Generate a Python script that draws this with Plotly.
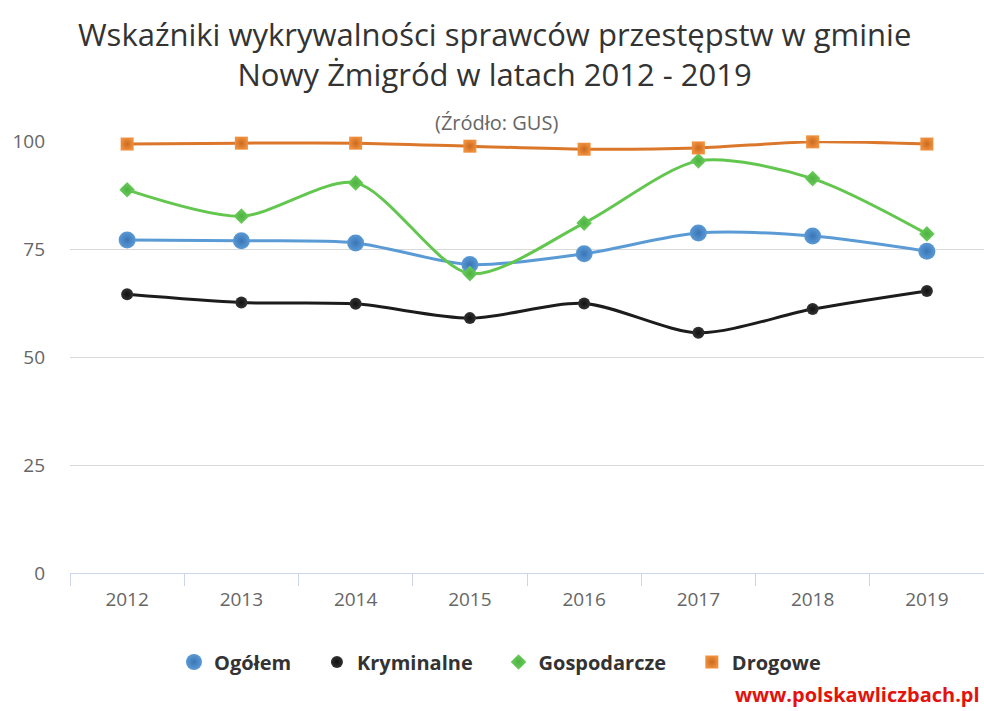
import plotly.graph_objects as go

years = ["2012", "2013", "2014", "2015", "2016", "2017", "2018", "2019"]
ogolem = [77.1, 76.9, 76.4, 71.4, 73.9, 78.7, 78.0, 74.5]
kryminalne = [64.5, 62.6, 62.3, 59.0, 62.4, 55.6, 61.1, 65.3]
gospodarcze = [88.7, 82.6, 90.3, 69.3, 81.0, 95.4, 91.3, 78.5]
drogowe = [99.3, 99.5, 99.5, 98.8, 98.1, 98.4, 99.8, 99.3]

series = [
    ("Ogółem", ogolem, "#5b9bd5", "#5a9ad6", "#3a75b5", "circle", 17),
    ("Kryminalne", kryminalne, "#1c1c1c", "#333333", "#111111", "circle", 12),
    ("Gospodarcze", gospodarcze, "#62c64f", "#6ad05a", "#4fb043", "diamond", 12),
    ("Drogowe", drogowe, "#db772a", "#f08f3c", "#c96a1f", "square", 13),
]

W, H = 984, 711
L, R, T, B = 70, 0, 141, 138
PW, PH = W - L - R, H - T - B


def px(x):
    return (x - L) / PW


def py(y):
    return (H - B - y) / PH


FONT = "Open Sans, sans-serif"
PAD = "\u00a0" * 4

fig = go.Figure()
for name, vals, lc, mc, gc, sym, sz in series:
    fig.add_trace(go.Scatter(
        x=years, y=vals, name=name, mode="lines", legendgroup=name,
        showlegend=False,
        line=dict(color=lc, width=3, shape="spline", smoothing=0.8),
        cliponaxis=False, hoverinfo="skip",
    ))
for i, (name, vals, lc, mc, gc, sym, sz) in enumerate(series):
    fig.add_trace(go.Scatter(
        x=years, y=vals, name=name + (PAD if i < len(series) - 1 else ""),
        mode="markers", legendgroup=name,
        marker=dict(color=mc, symbol=sym, size=sz, line=dict(width=0),
                    gradient=dict(type="radial", color=gc)),
        cliponaxis=False,
    ))

fig.update_layout(
    width=W, height=H,
    margin=dict(l=L, r=R, t=T, b=B),
    paper_bgcolor="white", plot_bgcolor="white",
    font=dict(family=FONT, color="#666666"),
    showlegend=True,
    legend=dict(
        orientation="h", x=px(500), xanchor="center", y=py(662), yanchor="middle",
        font=dict(size=20, color="#333333", family=FONT, weight="bold"),
        itemsizing="trace", itemwidth=30, traceorder="normal",
    ),
    xaxis=dict(
        type="category", showgrid=False, showline=True, linecolor="#ccd6eb", linewidth=1,
        ticks="outside", tickson="boundaries", ticklen=12, tickcolor="#ccd6eb",
        tickfont=dict(size=19, color="#666666"), range=[-0.5, 7.5],
        ticklabelstandoff=9,
    ),
    yaxis=dict(
        range=[0, 100], tickvals=[0, 25, 50, 75, 100], showgrid=True,
        gridcolor="#d9d9d9", gridwidth=1, zeroline=False, showline=False,
        tickfont=dict(size=19, color="#666666"), ticklabelstandoff=24,
    ),
    annotations=[
        dict(text="Wskaźniki wykrywalności sprawców przestępstw w gminie<br>"
                  "Nowy Żmigród w latach 2012 - 2019",
             x=px(494), y=py(54), xref="paper", yref="paper",
             xanchor="center", yanchor="middle", showarrow=False,
             font=dict(size=31, color="#333333", family=FONT)),
        dict(text="(Źródło: GUS)", x=px(496), y=py(123), xref="paper", yref="paper",
             xanchor="center", yanchor="middle", showarrow=False,
             font=dict(size=20, color="#666666", family=FONT)),
        dict(text="<b>www.polskawliczbach.pl</b>", x=px(982), y=py(694),
             xref="paper", yref="paper", xanchor="right", yanchor="middle",
             showarrow=False,
             font=dict(size=20, color="#e3120b", family=FONT)),
    ],
)

fig.write_html(
    "out.html",
    config={"displayModeBar": False},
    post_script="document.body.style.margin='0';document.body.style.overflow='hidden';",
)
